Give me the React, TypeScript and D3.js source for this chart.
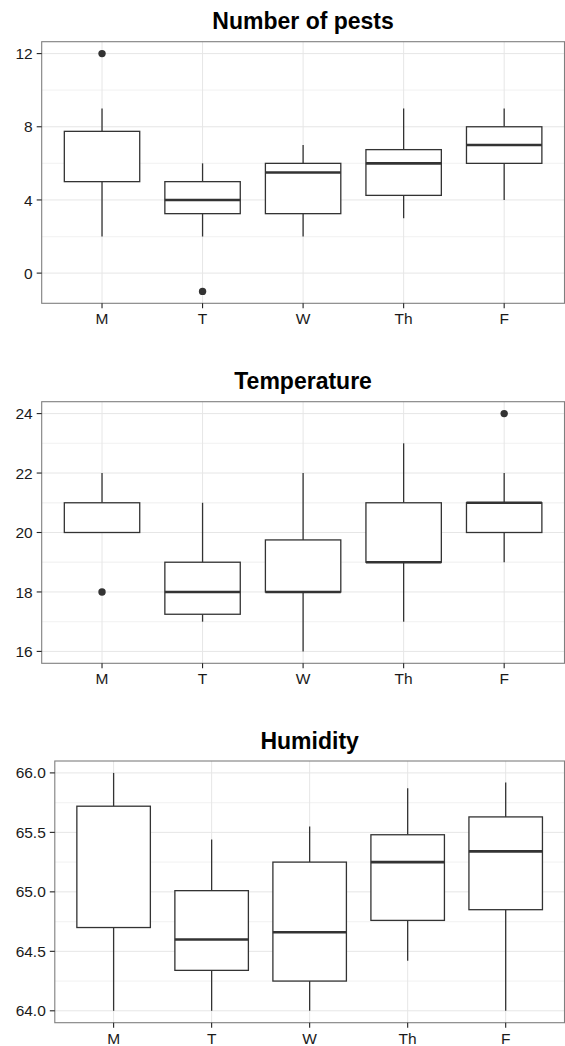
import React from 'react';
import * as d3 from 'd3';

// weekdays on the x axis
const days = ['M', 'T', 'W', 'Th', 'F'];

// Number of pests: whisker ends, quartiles, medians, outliers
const pestsLow = [2, 2, 2, 3, 4];
const pestsQ1 = [5, 3.25, 3.25, 4.25, 6];
const pestsMed = [null, 4, 5.5, 6, 7];
const pestsQ3 = [7.75, 5, 6, 6.75, 8];
const pestsHigh = [9, 6, 7, 9, 9];
const pestsOut = [[12], [-1], [], [], []];
const pestsTicks = [0, 4, 8, 12];

// Temperature
const tempLow = [20, 17, 16, 17, 19];
const tempQ1 = [20, 17.25, 18, 19, 20];
const tempMed = [null, 18, 18, 19, 21];
const tempQ3 = [21, 19, 19.75, 21, 21];
const tempHigh = [22, 21, 22, 23, 22];
const tempOut = [[18], [], [], [], [24]];
const tempTicks = [16, 18, 20, 22, 24];

// Humidity
const humLow = [64.0, 64.0, 64.0, 64.42, 64.0];
const humQ1 = [64.7, 64.34, 64.25, 64.76, 64.85];
const humMed = [null, 64.6, 64.66, 65.25, 65.34];
const humQ3 = [65.72, 65.01, 65.25, 65.48, 65.63];
const humHigh = [66.0, 65.44, 65.55, 65.87, 65.92];
const humOut = [[], [], [], [], []];
const humTicks = [64.0, 64.5, 65.0, 65.5, 66.0];

const font = 'Liberation Sans, Arial, Helvetica, sans-serif';
const ink = '#333333';

function Panel({ title, top, left, right, height, low, q1, med, q3, high, out, ticks, fmt }) {
  const bottom = top + height;
  const all = [...low, ...high, ...out.flat()];
  const [mn, mx] = d3.extent(all);
  const pad = (mx - mn) * 0.05;
  const y = d3.scaleLinear().domain([mn - pad, mx + pad]).range([bottom, top]);
  const x = d3.scalePoint().domain(days).range([left, right]).padding(0.6);
  const bw = x.step() * 0.75;
  const minor = d3.pairs(ticks).map(([a, b]) => (a + b) / 2);

  return (
    <g>
      <text x={(left + right) / 2} y={top - 12.5} textAnchor="middle" fontFamily={font}
        fontWeight="bold" fontSize={23} fill="#000">{title}</text>
      <rect x={left} y={top} width={right - left} height={height} fill="#fff" />
      {minor.map((t) => (
        <line key={'m' + t} x1={left} x2={right} y1={y(t)} y2={y(t)} stroke="#f4f4f4" strokeWidth={1.3} />
      ))}
      {ticks.map((t) => (
        <line key={'g' + t} x1={left} x2={right} y1={y(t)} y2={y(t)} stroke="#e6e6e6" strokeWidth={1} />
      ))}
      {days.map((d) => (
        <line key={'v' + d} x1={x(d)} x2={x(d)} y1={top} y2={bottom} stroke="#e6e6e6" strokeWidth={1} />
      ))}
      {days.map((d, i) => {
        const cx = x(d);
        return (
          <g key={d} stroke={ink} fill="none" strokeWidth={1.3}>
            <line x1={cx} x2={cx} y1={y(high[i])} y2={y(q3[i])} />
            <line x1={cx} x2={cx} y1={y(q1[i])} y2={y(low[i])} />
            <rect x={cx - bw / 2} y={y(q3[i])} width={bw} height={y(q1[i]) - y(q3[i])} fill="#fff" />
            {med[i] != null && (
              <line x1={cx - bw / 2} x2={cx + bw / 2} y1={y(med[i])} y2={y(med[i])} strokeWidth={2.6} />
            )}
            {out[i].map((o, j) => (
              <circle key={j} cx={cx} cy={y(o)} r={3.7} fill={ink} stroke="none" />
            ))}
          </g>
        );
      })}
      <rect x={left} y={top} width={right - left} height={height} fill="none" stroke="#7f7f7f" strokeWidth={1.1} />
      {ticks.map((t) => (
        <g key={'t' + t}>
          <line x1={left - 5} x2={left} y1={y(t)} y2={y(t)} stroke="#222" strokeWidth={1.1} />
          <text x={left - 9} y={y(t)} dy="0.36em" textAnchor="end" fontFamily={font}
            fontSize={15.5} fill="#1a1a1a">{fmt(t)}</text>
        </g>
      ))}
      {days.map((d) => (
        <g key={'x' + d}>
          <line x1={x(d)} x2={x(d)} y1={bottom} y2={bottom + 5} stroke="#222" strokeWidth={1.1} />
          <text x={x(d)} y={bottom + 21} textAnchor="middle" fontFamily={font}
            fontSize={15.5} fill="#1a1a1a">{d}</text>
        </g>
      ))}
    </g>
  );
}

export default function App() {
  const W = 565;
  const H = 1046;
  return (
    <div style={{ position: 'absolute', left: 0, top: 0 }}>
      <svg width={W} height={H} style={{ display: 'block', background: '#fff' }}>
        <Panel title="Number of pests" top={41.7} left={41.7} right={564.5} height={261.6}
          low={pestsLow} q1={pestsQ1} med={pestsMed} q3={pestsQ3} high={pestsHigh} out={pestsOut}
          ticks={pestsTicks} fmt={d3.format('d')} />
        <Panel title="Temperature" top={401.7} left={41.7} right={564.5} height={261.6}
          low={tempLow} q1={tempQ1} med={tempMed} q3={tempQ3} high={tempHigh} out={tempOut}
          ticks={tempTicks} fmt={d3.format('d')} />
        <Panel title="Humidity" top={761} left={54.8} right={564.5} height={261.7}
          low={humLow} q1={humQ1} med={humMed} q3={humQ3} high={humHigh} out={humOut}
          ticks={humTicks} fmt={d3.format('.1f')} />
      </svg>
    </div>
  );
}
